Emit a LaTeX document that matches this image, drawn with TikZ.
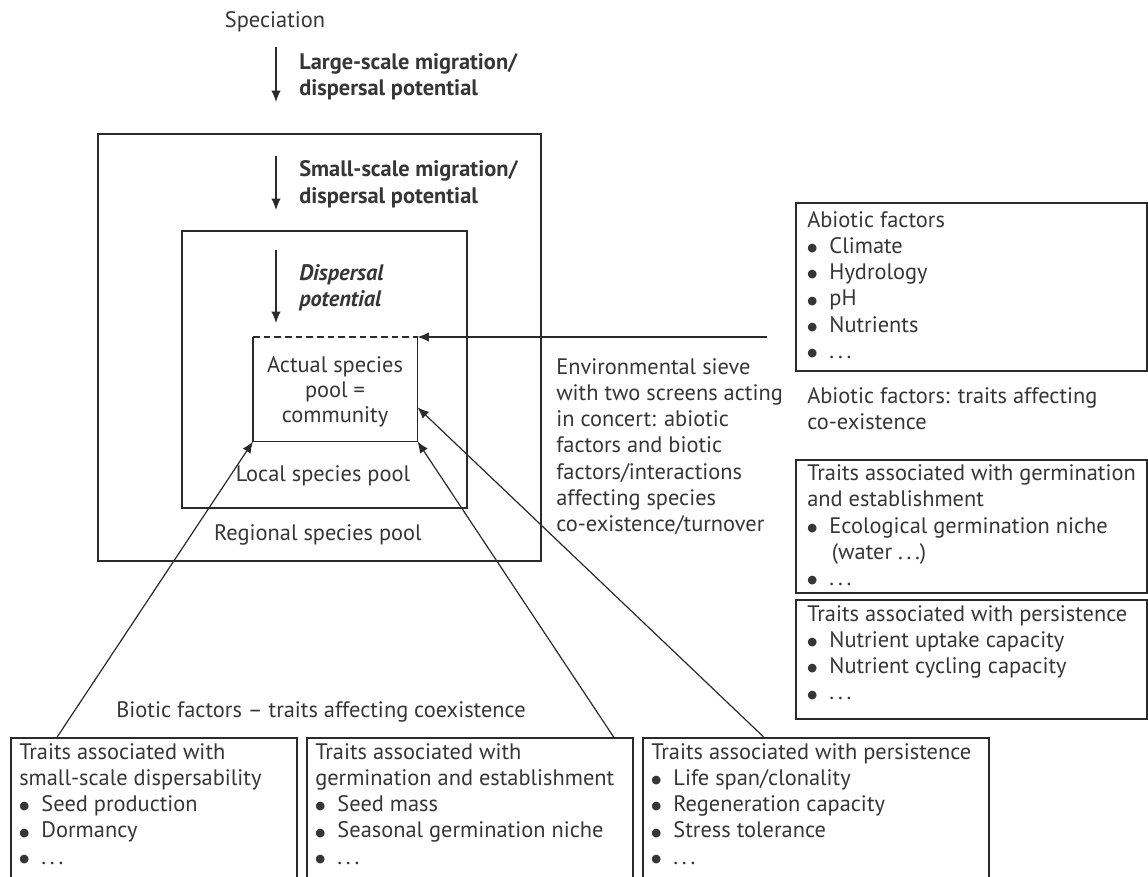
\documentclass[tikz,border=0pt]{standalone}
\usepackage{fontspec}
\setmainfont{PT Sans}
\newfontfamily\symf{DejaVu Sans}
\usetikzlibrary{arrows.meta,calc}
\definecolor{ink}{HTML}{363636}
\definecolor{linec}{HTML}{2A2A2A}
\newcommand{\fs}{\fontsize{16.8}{19.7}\selectfont}
\newcommand{\bul}{\raisebox{1.3pt}{\symf\fontsize{8.5}{8.5}\selectfont ●}\hspace{0.55em}}
\newcommand{\dotsx}{.\,.\,.}
\tikzset{
  frame/.style={draw=linec, line width=1.2pt, inner sep=0pt, anchor=north west},
  boxsize/.style 2 args={minimum width=#1*0.75pt, minimum height=#2*0.75pt},
  txt/.style={text=ink, font=\fs, inner sep=0pt},
  ltxt/.style={txt, anchor=north west, align=left},
  arr/.style={draw=linec, line width=0.9pt, -{Latex[length=8.5pt,width=7pt]}},
  conn/.style={draw=linec, line width=0.9pt}
}
\begin{document}
\begin{tikzpicture}[x=0.75pt,y=-0.75pt]
\useasboundingbox (0,0) rectangle (1148,877);
\clip (0,0) rectangle (1148,877);
\fill[white] (0,0) rectangle (1148,877);

% nested pools
\node[frame, boxsize={443}{427}] (outer) at (97,133) {};
\node[frame, boxsize={285}{277}] (middle) at (181,230) {};
\node[inner sep=0pt, anchor=north west, boxsize={164}{104}] (inner) at (253,337) {};
\draw[conn, line width=1.2pt] (inner.north west) -- (inner.south west) -- (inner.south east) -- (inner.north east);
\draw[conn, line width=1.2pt, dash pattern=on 5pt off 3pt] (inner.north west) -- (inner.north east);

% right column boxes
\node[frame, boxsize={351}{168}] (abio) at (795,202) {};
\node[frame, boxsize={351}{133}] (germ) at (795,459) {};
\node[frame, boxsize={351}{119}] (pers) at (795,599) {};

% bottom boxes
\node[frame, boxsize={286}{200}] (b1) at (10,737) {};
\node[frame, boxsize={326}{200}] (b2) at (306,737) {};
\node[frame, boxsize={346}{200}] (b3) at (642,737) {};

% texts
\node[txt] (spec) at (275,22) {Speciation};
\node[ltxt, font=\fs\bfseries] (lab1) at (299,53.5) {Large-scale migration/\\dispersal potential};
\node[ltxt, font=\fs\bfseries] (lab2) at (299,160.5) {Small-scale migration/\\dispersal potential};
\node[ltxt, font=\fs\bfseries\itshape] (lab3) at (299,264) {Dispersal\\potential};
\node[txt, anchor=north, align=center, font=\fontsize{16.8}{18.75}\selectfont] (act) at (335,356.5) {Actual species\\pool =\\community};
\node[txt] (local) at (323,476) {Local species pool};
\node[txt] (regional) at (318,535) {Regional species pool};
\node[ltxt] (sieve) at (556,358) {Environmental sieve\\with two screens acting\\in concert: abiotic\\factors and biotic\\factors/interactions\\affecting species\\co-existence/turnover};
\node[ltxt] (abioT) at (807,211) {Abiotic factors\\\bul Climate\\\bul Hydrology\\\bul pH\\\bul Nutrients\\\bul \dotsx};
\node[ltxt] (abioL) at (807,387.5) {Abiotic factors: traits affecting\\co-existence};
\node[ltxt] (germT) at (807,464.5) {Traits associated with germination\\and establishment\\\bul Ecological germination niche\\\hspace*{1.1em}(water \dotsx)\\\bul \dotsx};
\node[ltxt] (persT) at (807,605) {Traits associated with persistence\\\bul Nutrient uptake capacity\\\bul Nutrient cycling capacity\\\bul \dotsx};
\node[txt] (biotic) at (321,712) {Biotic factors -- traits affecting coexistence};
\node[ltxt] (b1T) at (19,743) {Traits associated with\\small-scale dispersability\\\bul Seed production\\\bul Dormancy\\\bul \dotsx};
\node[ltxt] (b2T) at (315,743) {Traits associated with\\germination and establishment\\\bul Seed mass\\\bul Seasonal germination niche\\\bul \dotsx};
\node[ltxt] (b3T) at (651,743) {Traits associated with persistence\\\bul Life span/clonality\\\bul Regeneration capacity\\\bul Stress tolerance\\\bul \dotsx};

% vertical arrows
\coordinate (a1s) at (276,47);  \coordinate (a1e) at (276,102);
\coordinate (a2s) at (276,156); \coordinate (a2e) at (276,210);
\coordinate (a3s) at (276,250); \coordinate (a3e) at (276,323);
\draw[arr] (a1s) -- (a1e);
\draw[arr] (a2s) -- (a2e);
\draw[arr] (a3s) -- (a3e);

% environmental sieve arrow
\coordinate (sieveR) at (767,337);
\draw[arr] (sieveR) -- (inner.north east);

% biotic connectors
\draw[arr] ($(b1.north west)!0.164!(b1.north east)$) -- (inner.south west);
\draw[arr] ($(b2.north west)!0.939!(b2.north east)$) -- (inner.south east);
\draw[arr] ($(b3.north west)!0.35!(b3.north east)$) -- ($(inner.south east)!0.327!(inner.north east)$);
\end{tikzpicture}
\end{document}
